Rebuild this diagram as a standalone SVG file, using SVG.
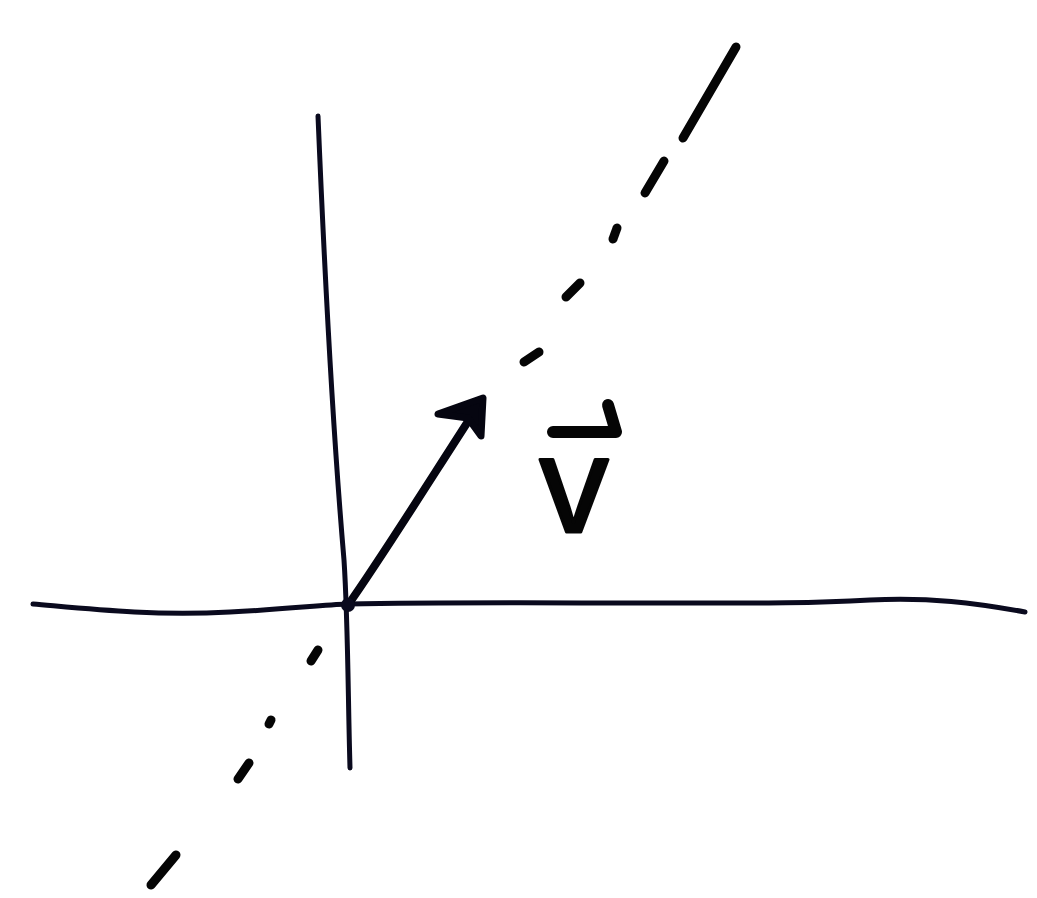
<svg xmlns="http://www.w3.org/2000/svg" width="1037" height="898" viewBox="0 0 1037 898">
<style>
.ax{fill:none;stroke:#0a0a1e;stroke-width:5;stroke-linecap:round;stroke-linejoin:round}
.ds{fill:none;stroke:#050505;stroke-width:9;stroke-linecap:round}
.vec{fill:none;stroke:#050510;stroke-width:8;stroke-linecap:round;stroke-linejoin:round}
.head{fill:#050510;stroke:#050510;stroke-width:7;stroke-linejoin:round}
.lbl{font-family:"Liberation Sans",Arial,sans-serif;font-size:138px;fill:#050505;stroke:#050505;stroke-width:3;stroke-linejoin:round}
.harp{fill:none;stroke:#050505;stroke-width:12;stroke-linecap:round;stroke-linejoin:round}
</style>
<rect width="1037" height="898" fill="#ffffff"/>
<g id="axes">
<path id="x-axis" class="ax" d="M33,604 C90,609 150,616 230,612 C290,609 320,605 348,604 C450,602 560,603 650,603 C740,603 800,604 870,600 C930,597 975,603 1025,612"/>
<path id="y-axis" class="ax" d="M318,116 C324,260 332,420 344,560 C348,620 348,700 350,768"/>
</g>
<g id="dashed-line">
<line class="ds" x1="736" y1="47" x2="683" y2="138"/>
<line class="ds" x1="664" y1="161" x2="645" y2="193"/>
<line class="ds" x1="617" y1="228" x2="613" y2="239"/>
<line class="ds" x1="580" y1="283" x2="566" y2="297"/>
<line class="ds" x1="539" y1="352" x2="524" y2="362"/>
<line class="ds" x1="318" y1="650" x2="311" y2="661"/>
<line class="ds" x1="271" y1="720" x2="269" y2="724"/>
<line class="ds" x1="249" y1="763" x2="238" y2="779"/>
<line class="ds" x1="176" y1="855" x2="151" y2="885"/>
</g>
<g id="vector">
<path class="vec" d="M348,605 C380,560 430,480 478,406"/>
<path class="head" d="M438,414 L483,398 L481,436 L468,418 Z"/>
<circle cx="348" cy="605" r="7" fill="#0a0a1e"/>
</g>
<g id="label">
<text class="lbl" x="574" y="532" text-anchor="middle">v</text>
<path class="harp" d="M553,432 L616,432 L608,405"/>
</g>
</svg>
